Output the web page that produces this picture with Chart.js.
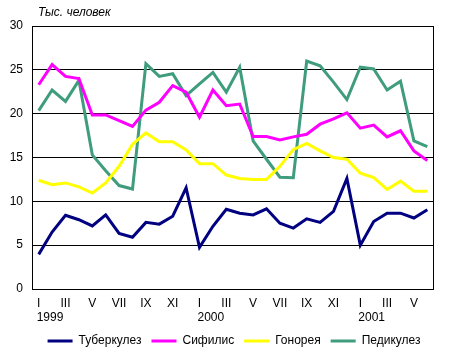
<!DOCTYPE html>
<html>
<head>
<meta charset="utf-8">
<script src="https://cdn.jsdelivr.net/npm/chart.js@4"></script>
<style>
html,body{margin:0;padding:0;background:#fff;}
#wrap{width:449px;height:357px;}
</style>
</head>
<body>
<div id="wrap"><canvas id="c" width="449" height="357"></canvas></div>
<script>
const monthLabels = ['I','II','III','IV','V','VI','VII','VIII','IX','X','XI','XII',
  'I','II','III','IV','V','VI','VII','VIII','IX','X','XI','XII',
  'I','II','III','IV','V','VI'];
const yearNames = ['1999','2000','2001'];
const yearStartIdx = [0,12,24];
const yTicks = [0,5,10,15,20,25,30];

const tuberculosis = [3.95,6.5,8.4,7.9,7.2,8.45,6.35,5.9,7.6,7.4,8.3,11.55,
  4.75,7.15,9.1,8.65,8.45,9.15,7.5,6.95,8.0,7.6,8.85,12.6,
  5.0,7.7,8.65,8.65,8.1,9.05];
const syphilis = [23.3,25.6,24.25,24.0,19.85,19.85,19.2,18.55,20.4,21.3,23.2,22.45,
  19.6,22.7,20.9,21.1,17.4,17.4,17.0,17.35,17.65,18.8,19.4,20.1,
  18.35,18.7,17.35,18.05,15.75,14.65];
const gonorrhea = [12.4,11.9,12.1,11.65,10.95,12.1,14.0,16.5,17.8,16.8,16.8,15.85,
  14.3,14.3,13.0,12.6,12.5,12.5,14.0,15.9,16.6,15.75,15.0,14.8,
  13.2,12.7,11.35,12.3,11.15,11.15];
const pediculosis = [20.35,22.7,21.4,23.8,15.3,13.5,11.8,11.4,25.7,24.25,24.55,22.05,
  23.4,24.7,22.45,25.3,16.9,14.8,12.75,12.7,26.0,25.45,23.6,21.6,
  25.3,25.1,22.7,23.7,16.9,16.25];

const seriesNames = ['Туберкулез','Сифилис','Гонорея','Педикулез'];
const seriesColors = ['#000080','#ff00ff','#ffff00','#3f9c7c'];
const seriesData = [tuberculosis, syphilis, gonorrhea, pediculosis];

const FONT = 'Arial, "Liberation Sans", sans-serif';

const framePlugin = {
  id: 'frame',
  afterLayout(chart){
    const lg = chart.legend;
    if (lg) { lg.left += 17; lg.right += 17; }
  },
  beforeDatasetsDraw(chart){
    const a = chart.chartArea, ctx = chart.ctx;
    ctx.save();
    ctx.strokeStyle = '#000';
    ctx.lineWidth = 1;
    ctx.strokeRect(Math.round(a.left)+0.5, Math.round(a.top)+0.5, Math.round(a.right-a.left)-1, Math.round(a.bottom-a.top));
    ctx.restore();
  },
  afterDraw(chart){
    const ctx = chart.ctx, xs = chart.scales.x, a = chart.chartArea;
    ctx.save();
    ctx.fillStyle = '#000';
    ctx.font = '12px ' + FONT;
    ctx.textAlign = 'left';
    ctx.textBaseline = 'middle';
    yearNames.forEach((y,i)=>{
      ctx.fillText(y, xs.getPixelForValue(yearStartIdx[i]) - 2, a.bottom + 29);
    });
    ctx.font = 'italic 12px ' + FONT;
    ctx.fillText('Тыс. человек', a.left + 6, 13);
    ctx.restore();
  }
};

new Chart(document.getElementById('c'), {
  type: 'line',
  data: {
    labels: monthLabels,
    datasets: seriesNames.map((n,i)=>({
      label: n,
      data: seriesData[i],
      borderColor: seriesColors[i],
      backgroundColor: seriesColors[i],
      borderWidth: 3,
      pointRadius: 0,
      tension: 0,
      fill: false
    }))
  },
  options: {
    responsive: false,
    animation: false,
    layout: { padding: { left: 0, right: 15, top: 26, bottom: 0 } },
    plugins: {
      legend: {
        position: 'bottom',
        labels: {
          color: '#000',
          font: { family: FONT, size: 12 },
          usePointStyle: true,
          pointStyle: 'line',
          pointStyleWidth: 25,
          boxHeight: 12,
          padding: 10
        }
      },
      tooltip: { enabled: false }
    },
    scales: {
      x: {
        offset: true,
        grid: { display: false, drawTicks: false },
        border: { display: false },
        ticks: {
          autoSkip: false,
          maxRotation: 0,
          padding: 7,
          color: '#000',
          font: { family: FONT, size: 12 },
          callback: function(v, i){ return i % 2 === 0 ? monthLabels[i] : ''; }
        },
        afterFit(s){ s.height = 36; }
      },
      y: {
        min: 0, max: 30,
        afterBuildTicks(s){ s.ticks = yTicks.map(v=>({value:v})); },
        grid: { color: '#000', lineWidth: 1, drawTicks: false },
        border: { display: false },
        ticks: {
          padding: 9,
          color: '#000',
          font: { family: FONT, size: 12 }
        },
        afterFit(s){ s.width = 32; }
      }
    }
  },
  plugins: [framePlugin]
});
</script>
</body>
</html>
